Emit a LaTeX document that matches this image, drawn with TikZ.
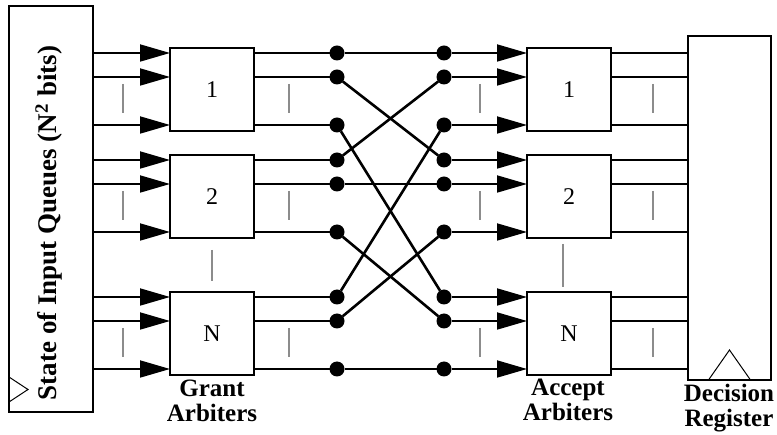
\documentclass[tikz,border=0pt]{standalone}
\usepackage{fontspec}
\setmainfont{Liberation Serif}
\usetikzlibrary{arrows.meta}
\begin{document}
\begin{tikzpicture}[x=1pt,y=-1pt,
  box/.style={draw, line width=2.1pt, minimum width=84pt, minimum height=83pt, inner sep=0pt, outer sep=0pt, anchor=north west, font=\fontsize{24}{24}\selectfont},
  bigbox/.style={draw, line width=2.1pt, inner sep=0pt, outer sep=0pt, anchor=north west},
  dotnode/.style={circle, fill, inner sep=0pt, outer sep=0pt, minimum size=15pt},
  inwire/.style={line width=1.8pt, -{Triangle[length=30pt,width=17pt]}},
  outwire/.style={line width=2.4pt},
  crosswire/.style={line width=2.6pt},
  bar/.style={draw=black!45, line width=2pt},
  lbl/.style={font=\fontsize{25}{24.5}\selectfont\bfseries, align=center, inner sep=0pt}
]
\useasboundingbox (0,0) rectangle (777,435);

% State of input queues
\node[bigbox, minimum width=84pt, minimum height=406pt] (sq) at (9,6) {};
\node[rotate=90, inner sep=0pt, font=\fontsize{27}{27}\selectfont\bfseries] (sqtext) at (49,223) {State of Input Queues (N\textsuperscript{2} bits)};
\draw[line width=1pt] (sq.south west) ++(0,-10) -- ++(19,-12.5) -- ++(-19,-12.5);

% Decision register
\node[bigbox, minimum width=83pt, minimum height=344pt] (reg) at (688,36) {};
\draw[line width=1pt] (reg.south) ++(-21,0) -- ++(21,-30) -- ++(21,30);

% Arbiters and junction dots
\foreach \i/\lab/\t in {1/1/48, 2/2/155, 3/N/292} {
  \node[box] (g\i) at (170,\t) {\lab};
  \node[box] (a\i) at (527,\t) {\lab};
  \foreach \j/\d in {1/5, 2/29, 3/77} {
    \node[dotnode] (L\i\j) at (337,\t+\d) {};
    \node[dotnode] (R\i\j) at (444,\t+\d) {};
  }
  % ellipsis bars
  \draw[bar] (123,\t+36) -- (123,\t+65);
  \draw[bar] (289,\t+36) -- (289,\t+65);
  \draw[bar] (480,\t+36) -- (480,\t+65);
  \draw[bar] (653,\t+36) -- (653,\t+65);
}
\draw[bar] (212,250) -- (212,281);
\draw[bar] (563,244) -- (563,287);

% Wires
\foreach \i in {1,2,3} {
  \foreach \j in {1,2,3} {
    \draw[inwire] (sq.east |- L\i\j) -- (g\i.west |- L\i\j);
    \draw[outwire] (g\i.east |- L\i\j) -- (L\i\j);
    \draw[crosswire] (L\i\j) -- (R\j\i);
    \draw[inwire] (R\i\j) -- (a\i.west |- R\i\j);
    \draw[outwire] (a\i.east |- R\i\j) -- (reg.west |- R\i\j);
  }
}

% Labels
\node[lbl, anchor=north] (glbl) at (212,380) {Grant\\Arbiters};
\node[lbl, anchor=north] (albl) at (568,379) {Accept\\Arbiters};
\node[lbl, anchor=north] (rlbl) at (729,384) {Decision\\Register};
\end{tikzpicture}
\end{document}
